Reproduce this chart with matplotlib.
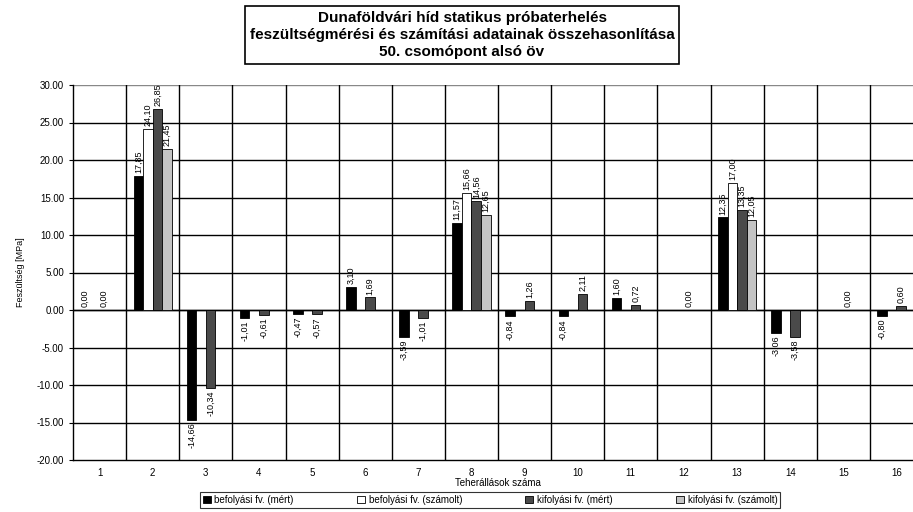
import numpy as np
import matplotlib.pyplot as plt

plt.rcParams['font.family'] = ['Liberation Sans', 'DejaVu Sans']

# Teherállások és a mért / számolt feszültségek [MPa]
teherallas = np.arange(1, 17)
bef_mert = [0.00, 17.85, -14.66, -1.01, -0.47, 3.10, -3.59, 11.57,
            -0.84, -0.84, 1.60, np.nan, 12.35, -3.06, np.nan, -0.80]
bef_szamolt = [np.nan, 24.10, np.nan, np.nan, np.nan, np.nan, np.nan, 15.66,
               np.nan, np.nan, np.nan, np.nan, 17.00, np.nan, np.nan, np.nan]
kif_mert = [0.00, 26.85, -10.34, -0.61, -0.57, 1.69, -1.01, 14.56,
            1.26, 2.11, 0.72, 0.00, 13.35, -3.58, 0.00, 0.60]
kif_szamolt = [np.nan, 21.45, np.nan, np.nan, np.nan, np.nan, np.nan, 12.65,
               np.nan, np.nan, np.nan, np.nan, 12.05, np.nan, np.nan, np.nan]

sorozatok = [
    (bef_mert, 'befolyási fv. (mért)', '#000000'),
    (bef_szamolt, 'befolyási fv. (számolt)', '#ffffff'),
    (kif_mert, 'kifolyási fv. (mért)', '#4a4a4a'),
    (kif_szamolt, 'kifolyási fv. (számolt)', '#c4c4c4'),
]

fig = plt.figure(figsize=(9.13, 5.12), dpi=100)
ax = fig.add_axes([73 / 913, 52 / 512, 850 / 913, 375 / 512])

szel = 0.18
eltolas = [-0.27, -0.09, 0.09, 0.27]
for (ertek, nev, szin), dx in zip(sorozatok, eltolas):
    ertek = np.array(ertek, dtype=float)
    ax.bar(teherallas + dx, ertek, szel, color=szin, edgecolor='black',
           linewidth=0.6, label=nev, zorder=3)
    for x, v in zip(teherallas + dx, ertek):
        if np.isnan(v):
            continue
        szoveg = f'{v:.2f}'.replace('.', ',')
        if v >= 0:
            ax.annotate(szoveg, (x, v), xytext=(0, 2), textcoords='offset points',
                        rotation=90, ha='center', va='bottom', fontsize=6.5, zorder=4)
        else:
            ax.annotate(szoveg, (x, v), xytext=(0, -2), textcoords='offset points',
                        rotation=90, ha='center', va='top', fontsize=6.5, zorder=4)

ax.set_xlim(0.5, 16.5)
ax.set_ylim(-20, 30)
ax.set_yticks(np.arange(-20, 31, 5))
ax.set_yticklabels([f'{t:.2f}' for t in np.arange(-20, 31, 5)], fontsize=7)
ax.set_xticks(teherallas)
ax.set_xticklabels([str(t) for t in teherallas], fontsize=7)
ax.tick_params(axis='x', length=0, pad=6)
ax.tick_params(axis='y', length=3, width=0.8)

# rácsvonalak
for y in np.arange(-15, 31, 5):
    ax.axhline(y, color='black' if y < 30 else '#888888', linewidth=1.0, zorder=1)
for x in np.arange(1.5, 16.5, 1):
    ax.axvline(x, color='black', linewidth=1.0, zorder=1)
ax.axhline(0, color='black', linewidth=1.0, zorder=2)

for s in ['top', 'right']:
    ax.spines[s].set_visible(False)
ax.spines['left'].set_linewidth(1.0)
ax.spines['bottom'].set_linewidth(1.0)

ax.set_ylabel('Feszültség [MPa]', fontsize=6.5, labelpad=8)
ax.set_xlabel('Teherállások száma', fontsize=7, labelpad=0)

fig.text(462 / 913, 1 - 35 / 512,
         'Dunaföldvári híd statikus próbaterhelés\n'
         'feszültségmérési és számítási adatainak összehasonlítása\n'
         '50. csomópont alsó öv',
         ha='center', va='center', fontsize=11, fontweight='bold', linespacing=1.3,
         bbox=dict(boxstyle='square,pad=0.3', facecolor='white', edgecolor='black',
                   linewidth=1.2))

leg = fig.legend(loc='center', bbox_to_anchor=(490 / 913, 12 / 512), ncol=4,
                 fontsize=7, frameon=True, fancybox=False, edgecolor='black',
                 handlelength=0.8, handleheight=0.8, columnspacing=6.5,
                 handletextpad=0.4, borderpad=0.3)
leg.get_frame().set_linewidth(0.8)

fig.savefig('out.png', dpi=100)
